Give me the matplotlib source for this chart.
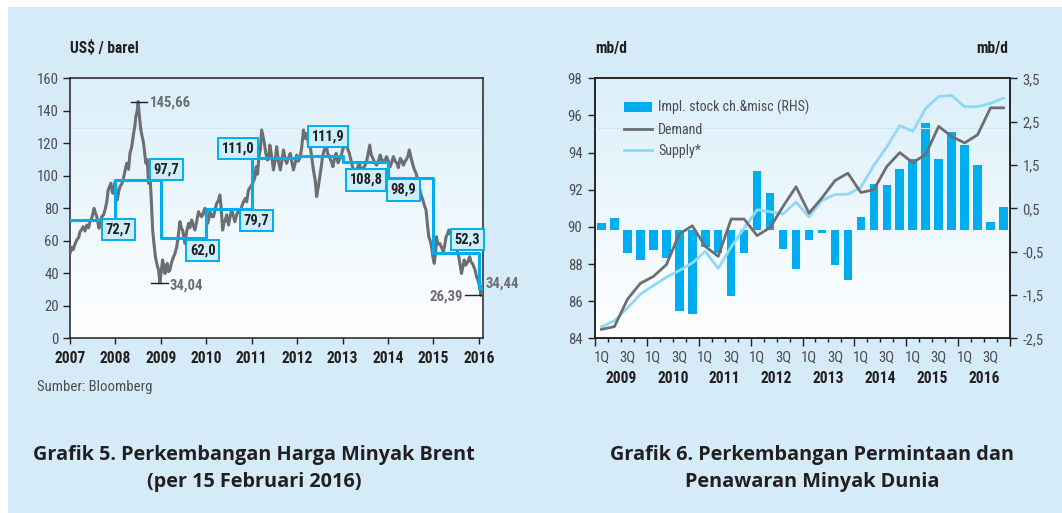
import numpy as np
import matplotlib
matplotlib.use("Agg")
import matplotlib.pyplot as plt
from matplotlib import font_manager as fm
from matplotlib.colors import LinearSegmentedColormap
from matplotlib.patches import Rectangle

# pick a narrow sans if one is installed, else Roboto
installed = sorted({f.name for f in fm.fontManager.ttflist})
narrow = [n for n in ['Liberation Sans Narrow', 'Roboto Condensed', 'Open Sans Condensed',
                      'Noto Sans Condensed'] if n in installed]
narrow += [n for n in installed if ('Narrow' in n or 'Condensed' in n) and n not in narrow]
if narrow:
    BASE, S = narrow[0], 1.12
else:
    BASE, S = 'Roboto', 1.0
plt.rcParams['font.family'] = [BASE, 'DejaVu Sans']

# Grafik 5: harga minyak Brent (US$/barel)
brent_dates = [
    2007.00, 2007.04, 2007.07, 2007.11, 2007.15, 2007.19, 2007.22, 2007.26, 2007.29, 2007.33,
    2007.37, 2007.41, 2007.44, 2007.48, 2007.53, 2007.56, 2007.59, 2007.64, 2007.67, 2007.70,
    2007.74, 2007.77, 2007.81, 2007.84, 2007.90, 2007.93, 2007.95, 2007.99,
    2008.04, 2008.07, 2008.10, 2008.14, 2008.17, 2008.21, 2008.25, 2008.29, 2008.32, 2008.36,
    2008.40, 2008.43, 2008.45, 2008.48, 2008.50, 2008.53, 2008.56, 2008.59, 2008.62, 2008.67,
    2008.70, 2008.73, 2008.76, 2008.79, 2008.82, 2008.85, 2008.88, 2008.92, 2008.95, 2008.98,
    2009.02, 2009.04, 2009.07, 2009.09, 2009.12, 2009.14, 2009.17, 2009.20, 2009.24, 2009.28,
    2009.31, 2009.35, 2009.38, 2009.42, 2009.45, 2009.48, 2009.53, 2009.57, 2009.61, 2009.64,
    2009.68, 2009.72, 2009.75, 2009.79, 2009.83, 2009.86, 2009.90, 2009.93, 2009.97,
    2010.03, 2010.06, 2010.08, 2010.12, 2010.16, 2010.19, 2010.23, 2010.27, 2010.30, 2010.33,
    2010.36, 2010.39, 2010.42, 2010.45, 2010.49, 2010.52, 2010.56, 2010.60, 2010.63, 2010.67,
    2010.71, 2010.74, 2010.78, 2010.82, 2010.86, 2010.89, 2010.93, 2010.98,
    2011.04, 2011.07, 2011.10, 2011.13, 2011.16, 2011.19, 2011.22, 2011.25, 2011.28, 2011.31,
    2011.35, 2011.38, 2011.40, 2011.44, 2011.48, 2011.52, 2011.55, 2011.59, 2011.63, 2011.67,
    2011.70, 2011.74, 2011.77, 2011.81, 2011.85, 2011.88, 2011.92, 2011.96, 2011.99,
    2012.03, 2012.07, 2012.10, 2012.14, 2012.18, 2012.21, 2012.25, 2012.29, 2012.32, 2012.36,
    2012.40, 2012.43, 2012.46, 2012.49, 2012.53, 2012.56, 2012.60, 2012.64, 2012.67, 2012.71,
    2012.75, 2012.79, 2012.82, 2012.86, 2012.90, 2012.93, 2012.97,
    2013.00, 2013.04, 2013.08, 2013.11, 2013.15, 2013.19, 2013.22, 2013.26, 2013.30, 2013.33,
    2013.37, 2013.41, 2013.45, 2013.49, 2013.53, 2013.56, 2013.60, 2013.63, 2013.67, 2013.71,
    2013.75, 2013.79, 2013.83, 2013.86, 2013.90, 2013.94, 2013.97,
    2014.01, 2014.05, 2014.08, 2014.12, 2014.16, 2014.20, 2014.23, 2014.27, 2014.31, 2014.34,
    2014.38, 2014.42, 2014.45, 2014.47, 2014.51, 2014.55, 2014.58, 2014.62, 2014.66, 2014.69,
    2014.73, 2014.77, 2014.80, 2014.84, 2014.87, 2014.90, 2014.93, 2014.96, 2014.99,
    2015.02, 2015.05, 2015.07, 2015.10, 2015.14, 2015.18, 2015.22, 2015.25, 2015.28, 2015.31,
    2015.34, 2015.38, 2015.42, 2015.45, 2015.49, 2015.52, 2015.56, 2015.59, 2015.62, 2015.65,
    2015.68, 2015.71, 2015.74, 2015.77, 2015.80, 2015.83, 2015.86, 2015.89, 2015.92, 2015.95,
    2015.98, 2016.02, 2016.05, 2016.08, 2016.10,
]
brent_prices = [
    52.3, 56.0, 54.5, 58.0, 60.5, 62.0, 65.6, 67.0, 68.7, 66.0,
    69.7, 68.0, 71.8, 74.0, 80.0, 77.0, 74.8, 67.7, 72.0, 74.8,
    76.0, 78.9, 84.0, 91.3, 95.4, 90.0, 89.2, 96.4,
    85.1, 90.0, 93.3, 95.0, 97.4, 103.0, 107.7, 104.0, 113.8, 118.0,
    126.1, 131.0, 136.4, 140.0, 145.66, 136.0, 128.2, 124.0, 120.0, 107.7,
    110.0, 95.4, 101.5, 85.0, 66.6, 58.0, 50.2, 45.0, 42.0, 34.04,
    44.0, 48.2, 43.0, 39.9, 44.0, 46.1, 41.0, 42.0, 47.0, 50.2,
    52.0, 56.4, 62.0, 71.8, 68.0, 66.6, 58.4, 66.0, 70.7, 68.0,
    72.8, 69.0, 66.6, 72.0, 77.9, 76.0, 74.8, 77.0, 80.0,
    70.7, 74.0, 77.9, 75.0, 74.8, 79.0, 83.0, 85.0, 88.2, 80.0,
    66.6, 71.0, 72.8, 76.0, 69.7, 74.0, 78.9, 75.0, 71.8, 76.0,
    78.9, 77.0, 81.0, 84.0, 86.1, 84.0, 91.3, 93.3,
    96.4, 99.0, 105.6, 101.0, 111.8, 116.0, 128.2, 124.0, 120.0, 114.0,
    109.7, 113.0, 118.9, 112.0, 103.6, 110.0, 117.9, 109.0, 103.6, 110.0,
    115.9, 110.0, 107.7, 111.0, 113.8, 109.0, 103.6, 108.0, 112.8,
    109.0, 111.8, 117.0, 128.2, 123.0, 126.1, 120.0, 117.9, 112.0, 103.6,
    97.0, 87.2, 92.0, 97.4, 105.0, 111.8, 116.0, 120.0, 114.0, 111.8,
    109.0, 105.6, 110.0, 113.8, 108.0, 109.7, 112.0,
    115.9, 118.0, 121.0, 117.0, 113.8, 109.0, 105.6, 101.0, 103.6, 105.0,
    107.7, 103.0, 104.6, 106.0, 108.7, 113.0, 118.9, 113.0, 110.7, 108.0,
    106.6, 109.0, 112.8, 110.0, 108.7, 110.0, 111.8,
    109.0, 105.6, 108.0, 111.8, 109.0, 107.7, 105.0, 110.7, 109.0, 106.6,
    109.0, 110.7, 113.0, 115.9, 111.0, 106.6, 104.0, 101.5, 97.0, 93.3,
    88.0, 85.1, 82.0, 78.9, 70.0, 62.5, 60.0, 56.4, 50.0,
    46.1, 53.0, 62.5, 58.0, 58.4, 56.0, 53.3, 57.0, 62.5, 64.0,
    66.6, 64.0, 63.5, 62.0, 58.4, 55.0, 50.2, 45.0, 39.9, 44.0,
    48.2, 45.0, 46.1, 48.0, 50.2, 47.0, 46.1, 44.0, 42.0, 38.0,
    35.9, 31.8, 26.39, 30.0, 34.44,
]
avg_years = [2007, 2008, 2009, 2010, 2011, 2012, 2013, 2014, 2015, 2016]
avg_prices = [72.7, 97.7, 62.0, 79.7, 111.0, 111.9, 108.8, 98.9, 52.3, 30.8]
end_date = 2016.10

# Grafik 6: permintaan & penawaran minyak dunia (mb/d), kuartalan 2009-2016
years6 = ['2009', '2010', '2011', '2012', '2013', '2014', '2015', '2016']
quarters = ['1Q', '2Q', '3Q', '4Q']
stock_chg = [0.17, 0.28, -0.54, -0.70, -0.47, -0.65, -1.87, -1.95,
             -0.40, -0.53, -1.53, -0.54, 1.36, 0.86, -0.45, -0.89,
             -0.22, -0.08, -0.80, -1.15, 0.31, 1.07, 1.03, 1.40,
             1.63, 2.46, 1.63, 2.27, 1.97, 1.50, 0.18, 0.52]
demand = [84.48, 84.63, 86.10, 86.96, 87.33, 87.96, 89.61, 90.06,
          88.95, 88.41, 90.42, 90.42, 89.53, 89.96, 91.10, 92.16,
          90.74, 91.56, 92.49, 92.89, 91.85, 92.00, 93.25, 94.00,
          93.46, 93.90, 95.41, 94.87, 94.52, 94.96, 96.41, 96.41]
supply = [84.62, 84.95, 85.63, 86.38, 86.84, 87.29, 87.65, 88.05,
          88.68, 87.76, 88.92, 89.93, 90.92, 90.81, 90.70, 91.34,
          90.54, 91.42, 91.74, 91.76, 92.13, 93.31, 94.31, 95.45,
          95.15, 96.37, 97.02, 97.08, 96.47, 96.47, 96.65, 96.93]

GRAY = '#6d6e71'
CYAN = '#00aeef'
DARK = '#231f20'
TICKC = '#4d4d4f'
TITLE_FONT = ['Open Sans', 'DejaVu Sans']
TICK_FS = 9.5 * S
BOLD_FS = 10 * S
LEG_FS = 9 * S
BOX_FS = 9.3 * S


def comma(v, nd):
    return f"{v:.{nd}f}".replace('.', ',')


def gradient(ax):
    cmap = LinearSegmentedColormap.from_list('bg', ['#ffffff', '#dbeffa'])
    ax.imshow(np.linspace(0, 1, 256).reshape(-1, 1), cmap=cmap, extent=(0, 1, 0, 1),
              transform=ax.transAxes, aspect='auto', origin='lower', zorder=0)


def style_spines(ax):
    for s in ax.spines.values():
        s.set_color(DARK)
        s.set_linewidth(1.1)


fig = plt.figure(figsize=(10.62, 5.13), dpi=100, facecolor='white')
fig.add_artist(Rectangle((8 / 1062, 0), 1, 1 - 7 / 513, transform=fig.transFigure,
                         facecolor='#d5ebf8', edgecolor='none', zorder=-10))

# ---------------- Grafik 5 ----------------
ax = fig.add_axes([70 / 1062, 1 - 338.3 / 513, 413.3 / 1062, 260 / 513])
gradient(ax)
ax.axhline(129.2, color='#cfe9f7', lw=0.8, zorder=1)
ax.plot(brent_dates, brent_prices, color=GRAY, lw=2.2, zorder=3)
ax.step(avg_years + [end_date], avg_prices + [avg_prices[-1]], where='post',
        color=CYAN, lw=2.2, zorder=4)

# posisi kotak label rata-rata tahunan
label_xy = [(2008.065, 67.0), (2009.12, 103.8), (2009.925, 53.8), (2011.10, 72.5),
            (2010.70, 116.9), (2012.69, 124.1), (2013.52, 97.4), (2014.34, 91.3),
            (2015.75, 61.0)]
for v, (xp, yp) in zip(avg_prices[:-1], label_xy):
    ax.text(xp, yp, comma(v, 1), ha='center', va='center', fontsize=BOX_FS,
            fontweight='bold', color=DARK, zorder=6,
            bbox=dict(boxstyle='square,pad=0.25', fc='#cdeefb', ec=CYAN, lw=1.4))

peak = max(brent_prices)
low08 = brent_prices[brent_dates.index(2008.98)]
low16 = min(brent_prices[-5:])
last = brent_prices[-1]
ann = dict(fontsize=TICK_FS, color=GRAY, fontweight='bold', va='center')
ax.plot([2008.34, 2008.70], [peak, peak], color=DARK, lw=1, zorder=5)
ax.text(2008.76, peak - 0.7, comma(peak, 2), ha='left', **ann)
ax.plot([2008.78, 2009.15], [low08, low08], color=DARK, lw=1, zorder=5)
ax.text(2009.20, low08 - 1.4, comma(low08, 2), ha='left', **ann)
ax.plot([2015.70, 2016.04], [low16, low16], color=DARK, lw=1, zorder=5)
ax.text(2015.66, low16 - 0.8, comma(low16, 2), ha='right', **ann)
ax.text(2016.16, last - 1.0, comma(last, 2), ha='left', clip_on=False, **ann)

ax.set_xlim(2007, end_date)
ax.set_ylim(0, 160)
ax.set_yticks(range(0, 161, 20))
ax.set_xticks(range(2007, 2017))
ax.tick_params(axis='y', direction='out', length=5, width=1, color=DARK, pad=3,
               labelsize=TICK_FS, labelcolor=TICKC)
ax.tick_params(axis='x', direction='out', length=4, width=1, color=DARK, pad=5,
               labelsize=BOLD_FS, labelcolor=DARK)
for lab in ax.get_xticklabels():
    lab.set_fontweight('bold')
style_spines(ax)

fig.text(70 / 1062, 1 - 48 / 513, 'US$ / barel', ha='left', va='center',
         fontsize=BOLD_FS, fontweight='bold', color=DARK)
fig.text(36.7 / 1062, 1 - 386.7 / 513, 'Sumber: Bloomberg', ha='left', va='center',
         fontsize=TICK_FS, color=TICKC)
fig.text(254 / 1062, 1 - 455 / 513, 'Grafik 5. Perkembangan Harga Minyak Brent',
         ha='center', va='center', fontsize=14.3, fontweight='bold', color=DARK,
         family=TITLE_FONT)
fig.text(254 / 1062, 1 - 482 / 513, '(per 15 Februari 2016)',
         ha='center', va='center', fontsize=14.3, fontweight='bold', color=DARK,
         family=TITLE_FONT)

# ---------------- Grafik 6 ----------------
axb = fig.add_axes([595 / 1062, 1 - 338.3 / 513, 415 / 1062, 260 / 513])
gradient(axb)
axl = axb.twinx()
axb.yaxis.set_ticks_position('right')
axl.yaxis.set_ticks_position('left')
axl.yaxis.set_label_position('left')

x = np.arange(len(stock_chg))
axb.bar(x, stock_chg, width=0.66, color=CYAN, zorder=2,
        label='Impl. stock ch.&misc (RHS)')
axl.axhline(95.31, color='#cfe9f7', lw=0.8, zorder=1)
axl.plot(x, demand, color=GRAY, lw=2.0, label='Demand', zorder=4)
axl.plot(x, supply, color='#8ed8f8', lw=2.0, label='Supply*', zorder=3)

axb.set_xlim(-0.5, len(x) - 0.5)
axb.set_ylim(-2.5, 3.5)
axl.set_ylim(84, 98)
rticks = [-2.5, -1.5, -0.5, 0.5, 1.5, 2.5, 3.5]
axb.set_yticks(rticks)
axb.set_yticklabels([comma(v, 1) for v in rticks])
axl.set_yticks(range(84, 99, 2))
axb.set_xticks(np.arange(-0.5, len(x), 4))
axb.set_xticks(np.arange(-0.5, len(x), 1), minor=True)
axb.set_xticklabels([])
axb.tick_params(axis='x', which='major', direction='out', length=6, width=1, color=DARK)
axb.tick_params(axis='x', which='minor', direction='out', length=3, width=1, color=DARK)
for a in (axb, axl):
    a.tick_params(axis='y', direction='out', length=5, width=1, color=DARK, pad=4,
                  labelsize=TICK_FS, labelcolor=TICKC)
    style_spines(a)

xt = axb.get_xaxis_transform()
for i in x:
    q = quarters[i % 4]
    if q in ('1Q', '3Q'):
        axb.text(i, -0.073, q, transform=xt, ha='center', va='center',
                 fontsize=TICK_FS, color=TICKC)
for k, yr in enumerate(years6):
    axb.text(4 * k + 1.5, -0.154, yr, transform=xt, ha='center', va='center',
             fontsize=BOLD_FS, fontweight='bold', color=DARK)

h1, l1 = axb.get_legend_handles_labels()
h2, l2 = axl.get_legend_handles_labels()
leg = axl.legend(h1 + h2, l1 + l2, loc='upper left', bbox_to_anchor=(0.07, 0.918),
                 frameon=False, borderaxespad=0, borderpad=0, fontsize=LEG_FS,
                 handlelength=2.0, handletextpad=0.45, labelspacing=0.55)
for t in leg.get_texts():
    t.set_color(TICKC)

fig.text(595 / 1062, 1 - 48 / 513, 'mb/d', ha='left', va='center',
         fontsize=BOLD_FS, fontweight='bold', color=DARK)
fig.text(1008 / 1062, 1 - 48 / 513, 'mb/d', ha='right', va='center',
         fontsize=BOLD_FS, fontweight='bold', color=DARK)
fig.text(812 / 1062, 1 - 455 / 513, 'Grafik 6. Perkembangan Permintaan dan',
         ha='center', va='center', fontsize=14.3, fontweight='bold', color=DARK,
         family=TITLE_FONT)
fig.text(812 / 1062, 1 - 482 / 513, 'Penawaran Minyak Dunia',
         ha='center', va='center', fontsize=14.3, fontweight='bold', color=DARK,
         family=TITLE_FONT)

fig.savefig('out.png', dpi=100, facecolor=fig.get_facecolor())
